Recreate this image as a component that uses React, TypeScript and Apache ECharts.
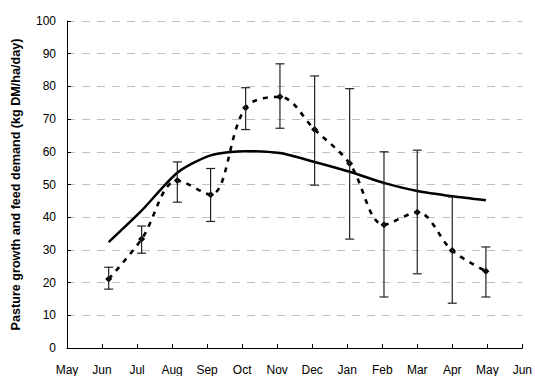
import React, { useEffect, useRef } from "react";
import * as echarts from "echarts";

const monthLabels = ["May", "Jun", "Jul", "Aug", "Sep", "Oct", "Nov", "Dec", "Jan", "Feb", "Mar", "Apr", "May", "Jun"];
// sample positions (months after 1 May)
const sampleMonth = [1.19, 2.13, 3.15, 4.1, 5.1, 6.08, 7.07, 8.07, 9.05, 10.0, 11.0, 11.96];
const feedDemand = [32.4, 42.0, 53.6, 58.9, 60.2, 59.6, 56.9, 53.9, 50.5, 48.0, 46.4, 45.2];
const pastureGrowth = [21.1, 33.3, 51.2, 46.9, 73.5, 76.8, 66.8, 56.4, 37.7, 41.5, 29.8, 23.5];
const growthHigh = [24.7, 37.3, 56.9, 54.9, 79.6, 86.9, 83.2, 79.3, 60.0, 60.5, 46.2, 30.9];
const growthLow = [18.0, 29.0, 44.6, 38.7, 66.8, 67.2, 49.8, 33.3, 15.6, 22.7, 13.7, 15.6];

const FONT = "'Liberation Sans', Arial, sans-serif";

export default function App() {
  const ref = useRef<HTMLDivElement>(null);
  useEffect(() => {
    if (!ref.current) return;
    const chart = echarts.init(ref.current, undefined, { renderer: "svg" });
    const option = {
      animation: false,
      textStyle: { fontFamily: FONT },
      grid: { left: 67, right: 11, top: 21, bottom: 28 },
      xAxis: {
        type: "value",
        min: 0,
        max: 13,
        interval: 1,
        axisLine: { lineStyle: { color: "#000", width: 1 } },
        axisTick: { inside: true, length: 4, lineStyle: { color: "#000" } },
        axisLabel: {
          color: "#000",
          fontSize: 12,
          fontFamily: FONT,
          margin: 16,
          formatter: (v: number) => monthLabels[Math.round(v)] ?? "",
        },
        splitLine: { show: false },
      },
      yAxis: {
        type: "value",
        min: 0,
        max: 100,
        interval: 10,
        name: "Pasture growth and feed demand (kg DM/ha/day)",
        nameLocation: "middle",
        nameGap: 45,
        nameTextStyle: { color: "#000", fontSize: 12.6, fontWeight: "bold", fontFamily: FONT },
        axisLine: { show: true, lineStyle: { color: "#000", width: 1 } },
        axisTick: { show: true, inside: true, length: 4, lineStyle: { color: "#000" } },
        axisLabel: { color: "#000", fontSize: 12, fontFamily: FONT, margin: 11 },
        splitLine: { show: true, lineStyle: { color: "#c0c0c0", type: [8, 7], width: 1 } },
      },
      series: [
        {
          type: "line",
          data: sampleMonth.map((x, i) => [x, feedDemand[i]]),
          smooth: 0.25,
          symbol: "none",
          lineStyle: { color: "#000", width: 2.5 },
          z: 3,
        },
        {
          type: "line",
          data: sampleMonth.map((x, i) => [x, pastureGrowth[i]]),
          smooth: 0.35,
          symbol: "diamond",
          symbolSize: 7,
          itemStyle: { color: "#000" },
          lineStyle: { color: "#000", width: 2.6, type: [5, 6] },
          z: 4,
        },
        {
          type: "custom",
          data: sampleMonth.map((x, i) => [x, growthLow[i], growthHigh[i]]),
          renderItem: (params: any, api: any) => {
            const x = api.value(0);
            const lo = api.coord([x, api.value(1)]);
            const hi = api.coord([x, api.value(2)]);
            const hw = 4.5;
            const style = { stroke: "#222", lineWidth: 1.2 };
            return {
              type: "group",
              children: [
                { type: "line", shape: { x1: lo[0], y1: lo[1], x2: hi[0], y2: hi[1] }, style },
                { type: "line", shape: { x1: hi[0] - hw, y1: hi[1], x2: hi[0] + hw, y2: hi[1] }, style },
                { type: "line", shape: { x1: lo[0] - hw, y1: lo[1], x2: lo[0] + hw, y2: lo[1] }, style },
              ],
            };
          },
          z: 5,
        },
      ],
    };
    chart.setOption(option as any);
    return () => chart.dispose();
  }, []);
  return <div ref={ref} style={{ width: 535, height: 376, position: "absolute", left: 0, top: 0 }} />;
}
